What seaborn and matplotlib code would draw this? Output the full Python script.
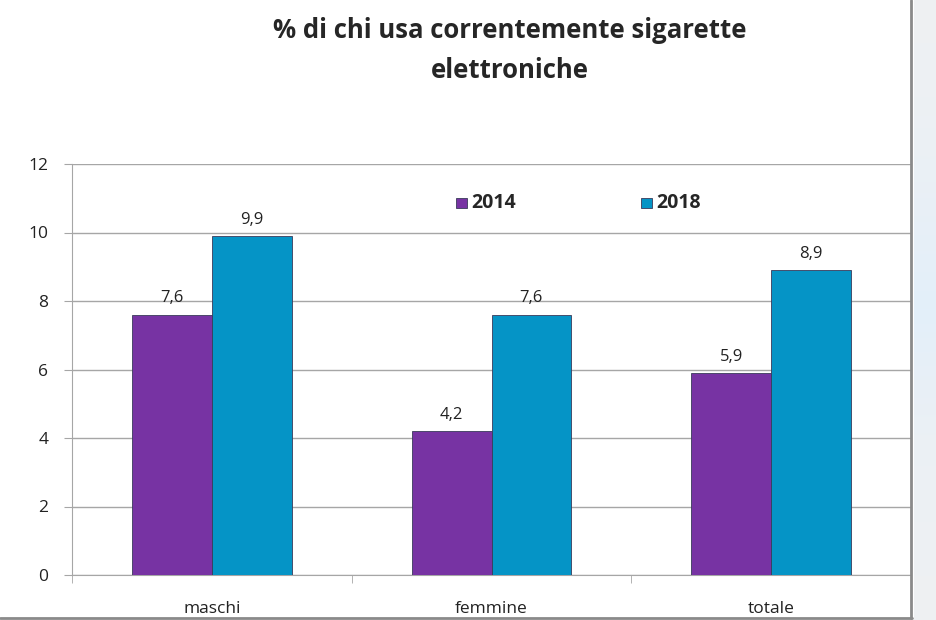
import numpy as np
import pandas as pd
import seaborn as sns
import matplotlib.pyplot as plt
from matplotlib.ticker import FixedLocator

categorie = ["maschi", "femmine", "totale"]
anni = ["2014", "2018"]
valori_2014 = [7.6, 4.2, 5.9]
valori_2018 = [9.9, 7.6, 8.9]
colori = ["#7733A3", "#0594C6"]

df = pd.DataFrame({
    "categoria": categorie * 2,
    "anno": [anni[0]] * 3 + [anni[1]] * 3,
    "valore": valori_2014 + valori_2018,
})

sns.set_style("white")
plt.rcParams["font.family"] = ["Open Sans", "DejaVu Sans"]

fig = plt.figure(figsize=(9.36, 6.2), dpi=100)
ax = fig.add_axes([72 / 936, 1 - 575 / 620, 839 / 936, 411 / 620])

sns.barplot(data=df, x="categoria", y="valore", hue="anno", palette=colori,
            saturation=1, width=0.57, edgecolor="#3a3a5a", linewidth=0.6,
            ax=ax, zorder=3)

for cont in ax.containers:
    etichette = [f"{b.get_height():.1f}".replace(".", ",") for b in cont]
    ax.bar_label(cont, labels=etichette, padding=6, fontsize=12, color="#222222")

ax.set_ylim(0, 12)
ax.set_xlim(-0.5, 2.5)
ax.set_yticks(range(0, 13, 2))
ax.grid(axis="y", color="#a6a6a6", linewidth=1, zorder=0)
ax.set_xlabel("")
ax.set_ylabel("")
ax.tick_params(axis="y", left=True, length=6, color="#a6a6a6", labelsize=12.5,
               pad=11, labelcolor="#222222")
ax.tick_params(axis="x", bottom=False, labelsize=12.5, pad=15, labelcolor="#222222")
ax.xaxis.set_minor_locator(FixedLocator([-0.5, 0.5, 1.5]))
ax.tick_params(axis="x", which="minor", bottom=True, length=6, color="#a6a6a6")
for s in ["top", "right"]:
    ax.spines[s].set_visible(False)
for s in ["left", "bottom"]:
    ax.spines[s].set_color("#a6a6a6")

leg = ax.legend(loc="center", bbox_to_anchor=(0.604, 0.905), ncol=2,
                frameon=False, handlelength=0.75, handleheight=0.75,
                columnspacing=9.0, handletextpad=0.35)
for t in leg.get_texts():
    t.set_fontweight("bold")
    t.set_fontsize(14)

fig.suptitle("% di chi usa correntemente sigarette\nelettroniche", x=510 / 936,
             y=0.972, fontsize=18.5, fontweight="bold", linespacing=1.6)

# cornice e sfondo a destra
sfondo = fig.add_axes([914 / 936, 0, 22 / 936, 1], zorder=-1)
grad = np.array([0.1, 0.2, 0.4, 0.7, 1.0, 0.6, 0.3, 0.2, 0.1]).reshape(-1, 1)
sfondo.imshow(grad, aspect="auto", cmap=sns.light_palette("#e3effa", as_cmap=True),
              vmin=0, vmax=1, interpolation="bilinear")
sfondo.axis("off")
fig.add_artist(plt.Line2D([911 / 936, 911 / 936], [1, 1 - 618 / 620],
                          transform=fig.transFigure, color="#8a8a8a", linewidth=2))
fig.add_artist(plt.Line2D([0, 912 / 936], [1 - 618 / 620, 1 - 618 / 620],
                          transform=fig.transFigure, color="#8a8a8a", linewidth=2))

fig.savefig("out.png", dpi=100)
